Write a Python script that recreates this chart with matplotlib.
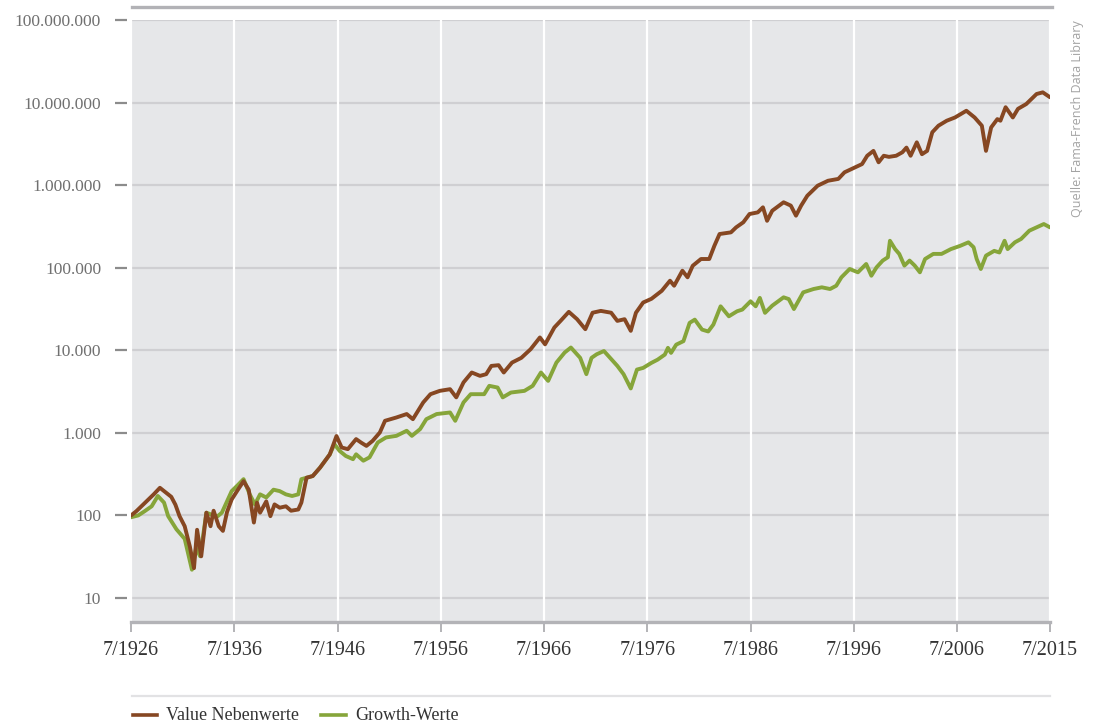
import matplotlib
matplotlib.use("Agg")
import matplotlib.pyplot as plt
from matplotlib.lines import Line2D
import numpy as np

# ---------------- data ----------------
value_years = [1926.5, 1927.0, 1927.7, 1928.3, 1928.7, 1929.3, 1929.9, 1930.4, 1930.8, 1931.2,
               1931.7, 1932.2, 1932.6, 1932.9, 1933.3, 1933.8, 1934.2, 1934.5, 1935.0, 1935.4,
               1935.8, 1936.25, 1936.8, 1937.4, 1937.9, 1938.4, 1938.7, 1939.0, 1939.6, 1940.0,
               1940.4, 1940.9, 1941.5, 1942.0, 1942.7, 1943.0, 1943.5, 1944.1, 1944.8, 1945.3,
               1945.75, 1946.4, 1946.9, 1947.5, 1948.3, 1948.8, 1949.3, 1949.9, 1950.6, 1951.1,
               1952.2, 1953.2, 1953.8, 1954.8, 1955.5, 1956.4, 1957.4, 1958.0, 1958.7, 1959.5,
               1960.3, 1960.9, 1961.4, 1962.1, 1962.6, 1963.4, 1964.3, 1965.2, 1966.1, 1966.6,
               1967.5, 1968.1, 1968.9, 1969.7, 1970.5, 1971.2, 1972.0, 1973.0, 1973.6, 1974.3,
               1974.9, 1975.4, 1976.1, 1976.9, 1977.9, 1978.7, 1979.1, 1979.9, 1980.4, 1980.9,
               1981.7, 1982.5, 1983.0, 1983.5, 1984.6, 1985.1, 1985.8, 1986.4, 1987.2, 1987.7,
               1988.1, 1988.6, 1989.7, 1990.4, 1990.9, 1991.4, 1992.0, 1993.0, 1994.0, 1995.0,
               1995.6, 1996.6, 1997.3, 1997.8, 1998.4, 1998.9, 1999.4, 1999.9, 2000.6, 2001.2,
               2001.6, 2002.0, 2002.6, 2003.1, 2003.6, 2004.1, 2004.7, 2005.5, 2006.3, 2007.4,
               2008.2, 2008.9, 2009.3, 2009.8, 2010.4, 2010.7, 2011.2, 2011.9, 2012.4, 2013.2,
               2014.2, 2014.8, 2015.5]
value_nebenwerte = [100, 112, 136, 160, 180, 216, 188, 168, 135, 98,
                    74, 42, 23, 67, 32, 108, 74, 114, 74, 65,
                    110, 156, 200, 260, 205, 82, 143, 108, 148, 98,
                    136, 124, 129, 114, 118, 143, 286, 300, 378, 460,
                    548, 915, 665, 635, 840, 760, 695, 800, 1010, 1400,
                    1535, 1690, 1465, 2335, 2940, 3225, 3380, 2690, 4080, 5380,
                    4900, 5140, 6470, 6600, 5380, 7100, 8100, 10300, 14300, 11800,
                    18900, 22700, 29200, 23800, 18000, 28500, 30000, 28500, 22700, 23800,
                    17200, 28500, 37900, 42000, 52500, 69600, 60500, 92000, 76500, 105600,
                    127500, 127500, 184700, 256000, 268000, 308000, 355000, 447000, 468000, 539000,
                    370000, 490000, 620000, 565000, 427000, 565000, 745000, 985000, 1130000, 1190000,
                    1430000, 1640000, 1800000, 2270000, 2600000, 1890000, 2270000, 2200000, 2270000, 2500000,
                    2850000, 2270000, 3300000, 2370000, 2600000, 4370000, 5250000, 6030000, 6600000, 7960000,
                    6600000, 5250000, 2600000, 5000000, 6300000, 6030000, 8780000, 6600000, 8400000, 9600000,
                    12700000, 13300000, 11600000]

growth_years = [1926.5, 1927.2, 1927.8, 1928.5, 1929.1, 1929.7, 1930.1, 1930.9, 1931.7, 1932.0,
                1932.4, 1932.8, 1933.2, 1933.8, 1934.5, 1934.9, 1935.3, 1936.25, 1936.8, 1937.4,
                1938.0, 1938.5, 1939.0, 1939.6, 1940.3, 1940.9, 1941.5, 1942.1, 1942.7, 1943.0,
                1943.5, 1944.1, 1944.8, 1945.3, 1945.75, 1946.2, 1946.7, 1947.3, 1948.0, 1948.3,
                1949.0, 1949.6, 1950.4, 1951.2, 1952.2, 1953.2, 1953.7, 1954.5, 1955.1, 1956.1,
                1957.4, 1957.9, 1958.7, 1959.4, 1960.7, 1961.2, 1962.0, 1962.5, 1963.3, 1964.6,
                1965.4, 1966.2, 1966.9, 1967.7, 1968.5, 1969.1, 1970.0, 1970.6, 1971.1, 1971.6,
                1972.3, 1972.9, 1973.6, 1974.2, 1974.9, 1975.5, 1976.1, 1976.9, 1977.5, 1978.2,
                1978.5, 1978.8, 1979.3, 1980.0, 1980.6, 1981.1, 1981.8, 1982.4, 1982.9, 1983.6,
                1984.4, 1985.2, 1985.7, 1986.5, 1987.0, 1987.4, 1987.9, 1988.6, 1989.7, 1990.2,
                1990.7, 1991.6, 1992.6, 1993.4, 1994.2, 1994.8, 1995.3, 1996.1, 1996.9, 1997.7,
                1998.2, 1998.7, 1999.3, 1999.8, 2000.0, 2000.5, 2000.9, 2001.4, 2001.9, 2002.4,
                2002.9, 2003.4, 2004.2, 2005.0, 2005.9, 2006.8, 2007.6, 2008.1, 2008.4, 2008.8,
                2009.3, 2010.1, 2010.6, 2011.1, 2011.4, 2012.1, 2012.7, 2013.5, 2014.2, 2014.9,
                2015.5]
growth_werte = [95, 100, 112, 129, 172, 143, 98, 68, 52, 36,
                22, 40, 32, 108, 100, 98, 108, 197, 230, 275,
                180, 136, 180, 165, 205, 197, 180, 172, 180, 275,
                286, 300, 378, 460, 548, 730, 605, 525, 480, 550,
                460, 505, 765, 880, 920, 1060, 920, 1110, 1465, 1690,
                1765, 1400, 2335, 2940, 2940, 3710, 3540, 2690, 3080, 3225,
                3710, 5380, 4260, 7100, 9400, 10800, 8100, 5140, 8100, 8950,
                9800, 8100, 6470, 5140, 3450, 5840, 6120, 7040, 7700, 8870,
                10700, 9300, 11700, 12900, 21500, 23500, 17800, 16900, 20500, 34100,
                25800, 29700, 31100, 39200, 34100, 43100, 28400, 34700, 43800, 41700,
                31600, 50300, 55200, 57900, 55200, 60500, 76500, 96500, 88000, 111000,
                80000, 101000, 122000, 134000, 212000, 168000, 147000, 106000, 122000, 106000,
                88000, 127500, 147000, 147000, 168000, 184000, 203000, 177000, 127500, 96500,
                140000, 160000, 153000, 212000, 168000, 203000, 223000, 281000, 308000, 338000,
                308000]

x_tick_pos = [1926.5, 1936.5, 1946.5, 1956.5, 1966.5, 1976.5, 1986.5, 1996.5, 2006.5, 2015.5]
x_tick_labels = ["7/1926", "7/1936", "7/1946", "7/1956", "7/1966", "7/1976",
                 "7/1986", "7/1996", "7/2006", "7/2015"]
y_tick_pos = [10, 100, 1000, 10000, 100000, 1000000, 10000000, 100000000]
y_tick_labels = ["10", "100", "1.000", "10.000", "100.000", "1.000.000",
                 "10.000.000", "100.000.000"]
series_names = ["Value Nebenwerte", "Growth-Werte"]

# ---------------- styling ----------------
BROWN = "#864722"
GREEN = "#86a53a"
BG = "#e6e7e9"
GRID_H = "#cfcfd2"
TICK_C = "#8c8c8c"
LABEL_C = "#707070"
SERIF = "Liberation Serif"

W, H = 1096, 724
fig = plt.figure(figsize=(W / 100, H / 100), dpi=100)
fig.patch.set_facecolor("white")

left, right, top, bottom = 131, 1050, 20, 622
ax = fig.add_axes([left / W, 1 - bottom / H, (right - left) / W, (bottom - top) / H])
ax.set_facecolor(BG)

ax.set_yscale("log")
ax.set_xlim(1926.5, 2015.5)
ax.set_ylim(10 ** (1 - 24 / 82.57), 1e8)

ax.plot(growth_years, growth_werte, color=GREEN, lw=2.8, solid_joinstyle="round",
        solid_capstyle="round", zorder=3)
ax.plot(value_years, value_nebenwerte, color=BROWN, lw=2.8, solid_joinstyle="round",
        solid_capstyle="round", zorder=4)

# grid
for yv in y_tick_pos:
    ax.axhline(yv, color=GRID_H, lw=1.6, zorder=1)
for xv in x_tick_pos:
    ax.axvline(xv, color="white", lw=1.6, zorder=1)

ax.set_xticks(x_tick_pos)
ax.set_xticklabels(x_tick_labels)
ax.set_yticks(y_tick_pos)
ax.set_yticklabels(y_tick_labels)
ax.yaxis.set_minor_locator(matplotlib.ticker.NullLocator())
ax.xaxis.set_minor_locator(matplotlib.ticker.NullLocator())

for s in ["top", "right"]:
    ax.spines[s].set_visible(False)
ax.spines["left"].set_position(("outward", 3))
ax.spines["left"].set_visible(False)
ax.spines["bottom"].set_color("#b3b3b7")
ax.spines["bottom"].set_linewidth(2.4)
ax.spines["bottom"].set_zorder(5)

ax.tick_params(axis="y", direction="out", length=8.5, width=1.6, color=TICK_C,
               pad=10, labelsize=12.5, labelcolor=LABEL_C)
ax.tick_params(axis="x", direction="out", length=7.5, width=1.4, color="#b3b3b7",
               pad=6.5, labelsize=14.5, labelcolor="#333333")
for lab in ax.get_xticklabels() + ax.get_yticklabels():
    lab.set_fontfamily(SERIF)

# top rule
fig.add_artist(Line2D([132 / W, 1052 / W], [1 - 6.5 / H, 1 - 6.5 / H], color="#b2b2b6",
                      lw=2.4, transform=fig.transFigure))
# legend separator
fig.add_artist(Line2D([132 / W, 1050 / W], [1 - 696 / H, 1 - 696 / H], color="#e2e2e4",
                      lw=1.6, transform=fig.transFigure))

# legend
ly_line = 1 - 714.5 / H
ly_text = 1 - 716 / H
fig.add_artist(Line2D([133 / W, 157 / W], [ly_line, ly_line], color=BROWN, lw=2.6,
                      transform=fig.transFigure))
fig.text(166 / W, ly_text, series_names[0], family=SERIF, fontsize=13,
         color="#333333", va="center", ha="left")
fig.add_artist(Line2D([321 / W, 346 / W], [ly_line, ly_line], color=GREEN, lw=2.6,
                      transform=fig.transFigure))
fig.text(355 / W, ly_text, series_names[1], family=SERIF, fontsize=13,
         color="#333333", va="center", ha="left")

# source note
fig.text(1077 / W, 1 - 20 / H, "Quelle: Fama-French Data Library", rotation=90,
         family="Open Sans", fontsize=9, color="#a3a3a3", va="top", ha="center")

fig.savefig("out.png", dpi=100, facecolor="white")
